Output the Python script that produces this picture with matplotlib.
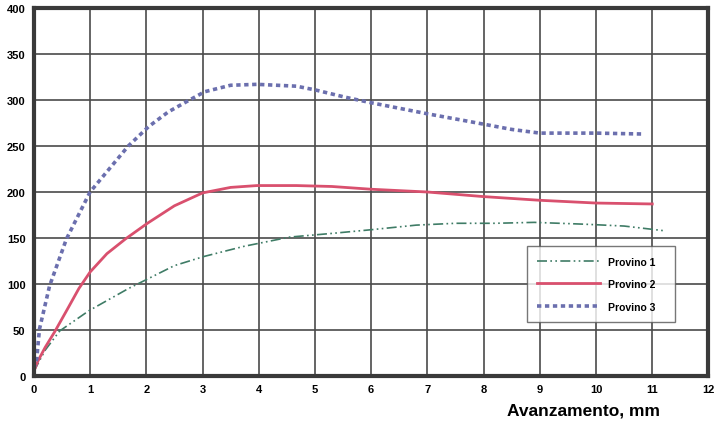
import matplotlib
matplotlib.use("Agg")
import matplotlib.pyplot as plt

plt.rcParams['font.family'] = ['Liberation Sans', 'DejaVu Sans']
plt.rcParams['font.weight'] = 'bold'

# values (x in mm, y in load units)
x1 = [0.0, 0.2, 0.46, 0.98, 1.68, 2.5, 3.03, 3.74, 4.55, 5.3, 6.0, 6.8, 7.5, 8.2, 8.9, 9.8, 10.5, 11.2]
y1 = [5, 28, 49, 71, 95, 120, 130, 141, 151, 155, 159, 164, 166, 166, 167, 165, 163, 158]

x2 = [0.0, 0.07, 0.2, 0.37, 0.6, 0.8, 1.0, 1.3, 1.63, 2.02, 2.5, 3.0, 3.5, 3.97, 4.67, 5.3, 6.0, 7.0, 8.0, 9.0, 10.0, 11.0]
y2 = [5, 16, 31, 48, 73, 95, 113, 133, 149, 166, 185, 199, 205, 207, 207, 206, 203, 200, 195, 191, 188, 187]

x3 = [0.0, 0.05, 0.1, 0.28, 0.58, 1.0, 1.68, 2.04, 2.39, 2.74, 3.04, 3.5, 3.97, 4.67, 5.0, 5.54, 6.0, 7.0, 7.8, 8.5, 9.0, 10.0, 10.85]
y3 = [8, 18, 51, 98, 149, 200, 250, 271, 287, 299, 309, 316, 317, 315, 311, 303, 297, 285, 276, 268, 264, 264, 263]

labels = ['Provino 1', 'Provino 2', 'Provino 3']

fig = plt.figure(figsize=(7.2, 4.27), dpi=100)
ax = fig.add_axes([0.047, 0.117, 0.937, 0.862])

ax.plot(x1, y1, color='#3f7c66', lw=1.2, dashes=(6, 2, 1, 2, 1, 2), label=labels[0])
ax.plot(x2, y2, color='#d9506e', lw=2.0, label=labels[1])
ax.plot(x3, y3, color='#6b6fae', lw=2.6, dashes=(1.2, 1.0), label=labels[2])

ax.set_xlim(0, 12)
ax.set_ylim(0, 400)
ax.set_xticks(range(0, 13))
ax.set_yticks(range(0, 401, 50))
ax.grid(True, color='#4a4a4a', lw=1.2)
ax.set_axisbelow(True)
ax.tick_params(length=0, labelsize=8, pad=6)
for lab in ax.get_xticklabels() + ax.get_yticklabels():
    lab.set_fontweight('bold')
for s in ax.spines.values():
    s.set_color('#3a3a3a')
    s.set_linewidth(3)

leg = ax.legend(loc='lower left', bbox_to_anchor=(0.731, 0.147, 0.22, 0.2),
                mode='expand', borderaxespad=0, fontsize=7.5, handlelength=6,
                frameon=True, fancybox=False, borderpad=1.0, labelspacing=1.2)
leg.get_frame().set_edgecolor('#555555')
leg.get_frame().set_linewidth(1)
for t in leg.get_texts():
    t.set_fontweight('bold')

fig.text(0.81, 0.02, 'Avanzamento, mm', fontsize=12.5, fontweight='bold', ha='center', va='bottom')

fig.savefig('out.png', dpi=100)
